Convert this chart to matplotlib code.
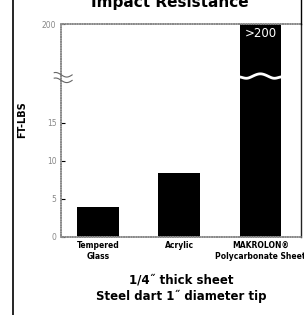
import numpy as np
import matplotlib
matplotlib.use("Agg")
import matplotlib.pyplot as plt
from matplotlib.lines import Line2D

# data
categories = ["Tempered\nGlass", "Acrylic", "MAKROLON\u00ae\nPolycarbonate Sheet"]
ft_lbs = [3.9, 8.4, 200]
yticks = [0, 5, 10, 15, 200]
ytick_labels = ["0", "5", "10", "15", "200"]
title = "Impact Resistance"
ylabel = "FT-LBS"
xlabel = "1/4\u02dd thick sheet\nSteel dart 1\u02dd diameter tip"
over_label = ">200"

# broken y axis: linear up to the break, compressed above it
BREAK = 21.3
TOP = 200.0
TOP_POS = 28.0
k = (TOP_POS - BREAK) / (TOP - BREAK)


def fwd(y):
    y = np.asarray(y, dtype=float)
    return np.where(y <= BREAK, y, BREAK + (y - BREAK) * k)


def inv(y):
    y = np.asarray(y, dtype=float)
    return np.where(y <= BREAK, y, BREAK + (y - BREAK) / k)


narrow = ["Liberation Sans Narrow", "DejaVu Sans"]

fig = plt.figure(figsize=(3.04, 3.15), dpi=100)
W, H = 304, 315
ax = fig.add_axes([60.5 / W, 1 - 237 / H, (301 - 60.5) / W, (237 - 24) / H])
ax.set_yscale("function", functions=(fwd, inv))

x = np.arange(len(categories))
ax.bar(x, ft_lbs, width=0.51, color="black", zorder=2)
ax.set_xlim(-0.46, 2.5)
ax.set_ylim(0, TOP)

ax.set_yticks(yticks)
ax.set_yticklabels(ytick_labels, fontsize=5.5, color="#888888")
ax.tick_params(axis="y", direction="in", length=3, width=0.8, color="black", pad=3)
ax.yaxis.set_minor_locator(matplotlib.ticker.NullLocator())
ax.set_xticks(x)
ax.set_xticklabels(categories, fontsize=5.5, fontweight="bold", family=narrow,
                   linespacing=1.3)
ax.tick_params(axis="x", length=0, pad=3)

for side in ["left", "top", "bottom"]:
    ax.spines[side].set_color("#8a8a8a")
    ax.spines[side].set_linewidth(1.1)
    ax.spines[side].set_linestyle((0, (1, 0.6)))
ax.spines["right"].set_color("#222222")
ax.spines["right"].set_linewidth(1.0)

# break marks on the left axis
t = np.linspace(0, 1, 30)
bx = -0.46 + (t - 0.35) * 0.22
for yb in [20.6, 22.0]:
    by = fwd(yb) + 0.3 * np.sin(t * np.pi * 1.6 + 1.2)
    ax.plot(bx, inv(by), color="#666666", lw=0.8, clip_on=False, zorder=3)

# wavy white break across the tall bar
wx = np.linspace(x[2] - 0.27, x[2] + 0.27, 60)
bump = np.exp(-((wx - x[2]) / 0.09) ** 2) - 0.7 * np.exp(-((wx - x[2] - 0.17) / 0.07) ** 2) \
    - 0.7 * np.exp(-((wx - x[2] + 0.17) / 0.07) ** 2)
wy = 21.1 + 0.35 * bump
ax.plot(wx, inv(wy), color="white", lw=2.0, zorder=3)

ax.text(x[2], inv(26.8), over_label, color="white", ha="center", va="center",
        fontsize=8.5, zorder=4)

fig.text(22 / W, 1 - 120 / H, ylabel, rotation=90, ha="center", va="center",
         fontsize=7, fontweight="bold", family=narrow)
fig.text(181 / W, 1 - 288 / H, xlabel, ha="center", va="center",
         fontsize=8.5, fontweight="bold", family=narrow, linespacing=1.3)
fig.text(170 / W, 1 - 7 / H, title, ha="center", va="baseline",
         fontsize=11, fontweight="bold")

# frame lines of the original figure
fig.add_artist(Line2D([12.5 / W, 12.5 / W], [0, 1], color="black", lw=1.2))
fig.add_artist(Line2D([301 / W, 301 / W], [1 - 24 / H, 1], color="black", lw=1.0))

fig.savefig("out.png", dpi=100)
